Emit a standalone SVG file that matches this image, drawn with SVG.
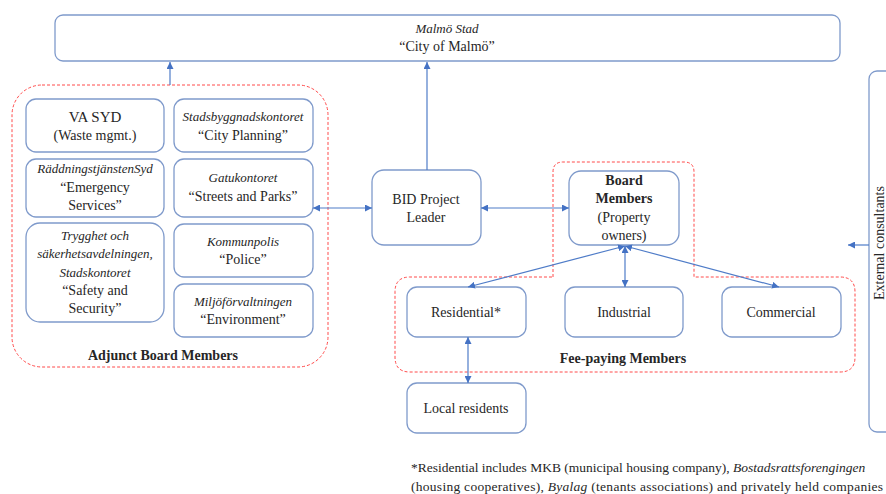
<svg xmlns="http://www.w3.org/2000/svg" width="886" height="494" viewBox="0 0 886 494" font-family="'Liberation Serif', 'DejaVu Serif', serif">
<defs>
<marker id="ah" viewBox="0 0 10 10" refX="10" refY="5" markerWidth="7" markerHeight="7" markerUnits="userSpaceOnUse" orient="auto-start-reverse">
<path d="M0,0 L10,5 L0,10 z" fill="#4472c4"/>
</marker>
<style>
.box{fill:#ffffff;stroke:#7f9acb;stroke-width:1.3}
.grp{fill:none;stroke:#ff4a4a;stroke-width:1;stroke-dasharray:3 2}
.con{fill:none;stroke:#4f7cc8;stroke-width:1.2}
text{font-family:'Liberation Serif', 'DejaVu Serif', serif;font-size:14px;fill:#262626;text-anchor:middle}
.it{font-style:italic;font-size:13px}
.b{font-weight:bold}
.fn{text-anchor:start;font-size:13.5px}
</style>
</defs>
<g id="groups">
<rect class="grp" x="12" y="85" width="316" height="282" rx="30"/>
<path class="grp" d="M553,277 L553,172 Q553,162 563,162 L684,162 Q694,162 694,172 L694,277 L840,277 Q855,277 855,292 L855,357 Q855,372 840,372 L410,372 Q395,372 395,357 L395,292 Q395,277 410,277 Z"/>
</g>
<g id="malmo-stad">
<rect class="box" x="55" y="15" width="785" height="46" rx="8"/>
<text class="it" x="447" y="33">Malmö Stad</text>
<text x="447" y="51">“City of Malmö”</text>
</g>
<g id="va-syd">
<rect class="box" x="26" y="99" width="138" height="53" rx="10"/>
<text x="95" y="122" style="font-size:15px">VA SYD</text>
<text x="95" y="140">(Waste mgmt.)</text>
</g>
<g id="stadsbyggnadskontoret">
<rect class="box" x="174" y="99" width="139" height="53" rx="10"/>
<text class="it" x="243" y="121">Stadsbyggnadskontoret</text>
<text x="243" y="140">“City Planning”</text>
</g>
<g id="raddningstjansten">
<rect class="box" x="26" y="159" width="138" height="58" rx="10"/>
<text class="it" x="95" y="173">RäddningstjänstenSyd</text>
<text x="95" y="192">“Emergency</text>
<text x="95" y="210">Services”</text>
</g>
<g id="gatukontoret">
<rect class="box" x="174" y="159" width="139" height="58" rx="10"/>
<text class="it" x="243" y="182">Gatukontoret</text>
<text x="243" y="201">“Streets and Parks”</text>
</g>
<g id="trygghet">
<rect class="box" x="26" y="223" width="138" height="99" rx="14"/>
<text class="it" x="95" y="240">Trygghet och</text>
<text class="it" x="95" y="258">säkerhetsavdelningen,</text>
<text class="it" x="95" y="277">Stadskontoret</text>
<text x="95" y="295">“Safety and</text>
<text x="95" y="313">Security”</text>
</g>
<g id="kommunpolis">
<rect class="box" x="174" y="224" width="139" height="53" rx="10"/>
<text class="it" x="243" y="246">Kommunpolis</text>
<text x="243" y="264">“Police”</text>
</g>
<g id="miljoforvaltningen">
<rect class="box" x="174" y="284" width="139" height="53" rx="10"/>
<text class="it" x="243" y="306">Miljöförvaltningen</text>
<text x="243" y="324">“Environment”</text>
</g>
<text class="b" x="163" y="360">Adjunct Board Members</text>
<g id="bid-project-leader">
<rect class="box" x="372" y="170" width="109" height="75" rx="12"/>
<text x="426" y="204">BID Project</text>
<text x="426" y="222">Leader</text>
</g>
<g id="board-members">
<rect class="box" x="569" y="171" width="110" height="74" rx="12"/>
<text class="b" x="624" y="185">Board</text>
<text class="b" x="624" y="203">Members</text>
<text x="624" y="222">(Property</text>
<text x="624" y="240">owners)</text>
</g>
<g id="residential">
<rect class="box" x="407" y="287" width="119" height="50" rx="10"/>
<text x="466" y="317">Residential*</text>
</g>
<g id="industrial">
<rect class="box" x="565" y="287" width="118" height="50" rx="10"/>
<text x="624" y="317">Industrial</text>
</g>
<g id="commercial">
<rect class="box" x="722" y="287" width="119" height="50" rx="10"/>
<text x="781" y="317">Commercial</text>
</g>
<text class="b" x="623" y="363">Fee-paying Members</text>
<g id="local-residents">
<rect class="box" x="407" y="383" width="119" height="50" rx="10"/>
<text x="466" y="413">Local residents</text>
</g>
<g id="external-consultants">
<rect class="box" x="869" y="71" width="40" height="361" rx="8"/>
<text x="884" y="243" transform="rotate(-90 884 243)">External consultants</text>
</g>
<g id="connectors">
<path class="con" d="M170,85 L170,62" marker-end="url(#ah)"/>
<path class="con" d="M427,170 L427,62" marker-end="url(#ah)"/>
<path class="con" d="M313,208 L372,208" marker-start="url(#ah)" marker-end="url(#ah)"/>
<path class="con" d="M481,208 L569,208" marker-start="url(#ah)" marker-end="url(#ah)"/>
<path class="con" d="M625,246 L468,287" marker-start="url(#ah)" marker-end="url(#ah)"/>
<path class="con" d="M625,246 L625,287" marker-start="url(#ah)" marker-end="url(#ah)"/>
<path class="con" d="M625,246 L779,287" marker-start="url(#ah)" marker-end="url(#ah)"/>
<path class="con" d="M468,337 L468,383" marker-start="url(#ah)" marker-end="url(#ah)"/>
<path class="con" d="M869,245 L848,245" marker-end="url(#ah)"/>
</g>
<g id="footnote">
<text class="fn" x="411" y="472">*Residential includes MKB (municipal housing company), <tspan font-style="italic">Bostadsrattsforengingen</tspan></text>
<text class="fn" x="411" y="491" textLength="472" lengthAdjust="spacing">(housing cooperatives), <tspan font-style="italic">Byalag</tspan> (tenants associations) and privately held companies</text>
</g>
</svg>
